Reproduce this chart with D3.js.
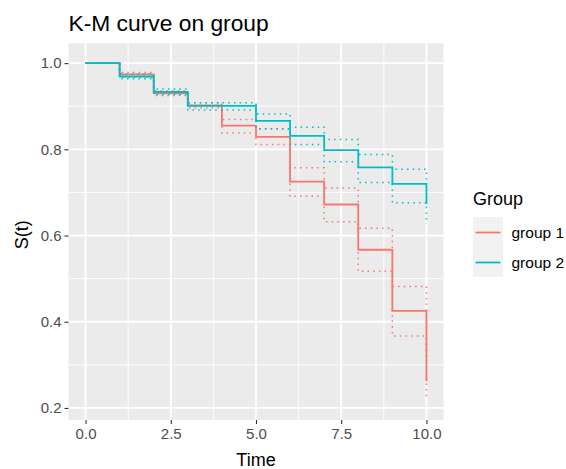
<!DOCTYPE html>
<html lang="en">
  <style>
    body { margin: 0; background: #fff; }
    text { font-family: "Liberation Sans", Arial, sans-serif; }
    .grid line { stroke: #fff; }
  </style>
  <head>
    <meta charset="UTF-8" />
    <title>K-M curve on group</title>
  </head>
  <body>
    <div id="wrapper"></div>
    <script src="https://d3js.org/d3.v7.min.js"></script>
    <script>
      // K-M estimates
      var times = [0, 1, 2, 3, 4, 5, 6, 7, 8, 9, 10];

      var group1Surv  = [1, 0.974, 0.930, 0.902, 0.855, 0.829, 0.725, 0.672, 0.567, 0.425, 0.262];
      var group1Lower = [1, 0.967, 0.925, 0.896, 0.838, 0.811, 0.691, 0.632, 0.517, 0.367, 0.218];
      var group1Upper = [1, 0.978, 0.936, 0.908, 0.869, 0.847, 0.757, 0.710, 0.617, 0.482, 0.310];

      var group2Surv  = [1, 0.969, 0.933, 0.901, 0.901, 0.866, 0.831, 0.798, 0.758, 0.720, 0.673];
      var group2Lower = [1, 0.964, 0.927, 0.891, 0.891, 0.848, 0.811, 0.771, 0.723, 0.676, 0.627];
      var group2Upper = [1, 0.975, 0.940, 0.908, 0.908, 0.882, 0.851, 0.823, 0.788, 0.754, 0.720];

      var groupNames = ["group 1", "group 2"];
      var groupColors = ["#F8766D", "#00BFC4"];

      var xTicks = [0, 2.5, 5, 7.5, 10];
      var xMinor = [1.25, 3.75, 6.25, 8.75];
      var yTicks = [0.2, 0.4, 0.6, 0.8, 1.0];
      var yMinor = [0.3, 0.5, 0.7, 0.9];

      var width = 566, height = 469;
      var panel = {left: 68.5, right: 443.5, top: 43.3, bottom: 420};

      var svg = d3.select("#wrapper").append("svg")
          .attr("width", width)
          .attr("height", height);

      var x = d3.scaleLinear().domain([-0.5, 10.5]).range([panel.left, panel.right]);
      var y = d3.scaleLinear().domain([0.172, 1.046]).range([panel.bottom, panel.top]);

      // panel background
      svg.append("rect")
          .attr("x", panel.left)
          .attr("y", panel.top)
          .attr("width", panel.right - panel.left)
          .attr("height", panel.bottom - panel.top)
          .attr("fill", "#EBEBEB");

      // grid lines
      var grid = svg.append("g").attr("class", "grid");
      grid.selectAll(".xminor").data(xMinor).enter().append("line")
          .attr("x1", d => x(d)).attr("x2", d => x(d))
          .attr("y1", panel.top).attr("y2", panel.bottom)
          .attr("stroke-width", 0.9);
      grid.selectAll(".yminor").data(yMinor).enter().append("line")
          .attr("y1", d => y(d)).attr("y2", d => y(d))
          .attr("x1", panel.left).attr("x2", panel.right)
          .attr("stroke-width", 0.9);
      grid.selectAll(".xmajor").data(xTicks).enter().append("line")
          .attr("x1", d => x(d)).attr("x2", d => x(d))
          .attr("y1", panel.top).attr("y2", panel.bottom)
          .attr("stroke-width", 1.8);
      grid.selectAll(".ymajor").data(yTicks).enter().append("line")
          .attr("y1", d => y(d)).attr("y2", d => y(d))
          .attr("x1", panel.left).attr("x2", panel.right)
          .attr("stroke-width", 1.8);

      // step lines
      var step = d3.line()
          .x(d => x(d[0]))
          .y(d => y(d[1]))
          .curve(d3.curveStepAfter);

      var groups = [
        {surv: group1Surv, lower: group1Lower, upper: group1Upper},
        {surv: group2Surv, lower: group2Lower, upper: group2Upper}
      ];

      groups.forEach(function(g, i) {
        [g.lower, g.upper].forEach(function(vals) {
          svg.append("path")
              .datum(d3.zip(times, vals))
              .attr("d", step)
              .attr("fill", "none")
              .attr("stroke", groupColors[i])
              .attr("stroke-width", 1.5)
              .attr("stroke-dasharray", "1.5,4.2");
        });
        svg.append("path")
            .datum(d3.zip(times, g.surv))
            .attr("d", step)
            .attr("fill", "none")
            .attr("stroke", groupColors[i])
            .attr("stroke-width", 1.8);
      });

      // axes
      var xAxis = svg.append("g")
          .attr("transform", "translate(0," + panel.bottom + ")")
          .call(d3.axisBottom(x).tickValues(xTicks).tickFormat(d3.format(".1f")).tickSize(4).tickPadding(4));
      var yAxis = svg.append("g")
          .attr("transform", "translate(" + panel.left + ",0)")
          .call(d3.axisLeft(y).tickValues(yTicks).tickFormat(d3.format(".1f")).tickSize(4).tickPadding(3));

      [xAxis, yAxis].forEach(function(ax) {
        ax.select(".domain").remove();
        ax.selectAll(".tick line").attr("stroke", "#333333").attr("stroke-width", 1.1);
        ax.selectAll(".tick text")
            .attr("fill", "#4D4D4D")
            .style("font-size", "15px")
            .style("font-family", "'Liberation Sans', Arial, sans-serif");
      });

      // titles
      svg.append("text")
          .attr("x", panel.left)
          .attr("y", 31)
          .style("font-size", "22.8px")
          .text("K-M curve on group");

      svg.append("text")
          .attr("x", (panel.left + panel.right) / 2)
          .attr("y", 466)
          .attr("text-anchor", "middle")
          .style("font-size", "18px")
          .text("Time");

      svg.append("text")
          .attr("transform", "translate(28," + ((panel.top + panel.bottom) / 2 + 3) + ") rotate(-90)")
          .attr("text-anchor", "middle")
          .style("font-size", "18px")
          .text("S(t)");

      // legend
      var legend = svg.append("g").attr("transform", "translate(473,0)");
      legend.append("text")
          .attr("x", 0)
          .attr("y", 205)
          .style("font-size", "18px")
          .text("Group");

      groupNames.forEach(function(name, i) {
        var top = 217 + i * 30;
        legend.append("rect")
            .attr("x", 0).attr("y", top)
            .attr("width", 30).attr("height", 30)
            .attr("fill", "#F2F2F2");
        legend.append("line")
            .attr("x1", 2.5).attr("x2", 27.5)
            .attr("y1", top + 15.5).attr("y2", top + 15.5)
            .attr("stroke", groupColors[i])
            .attr("stroke-width", 1.8);
        legend.append("text")
            .attr("x", 38.5)
            .attr("y", top + 21)
            .style("font-size", "15.5px")
            .text(name);
      });
    </script>
  </body>
</html>
